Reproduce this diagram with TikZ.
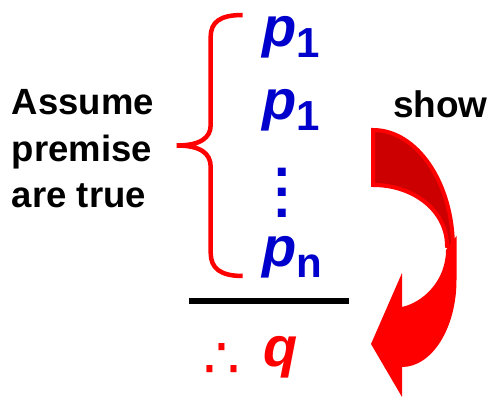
\documentclass[tikz,border=0pt]{standalone}
\usepackage{fontspec}
\setmainfont{Liberation Sans}
\newfontfamily\dejavu{DejaVu Sans}
\definecolor{pblue}{HTML}{0000CC}
\definecolor{pred}{HTML}{FF0000}
\definecolor{dred}{HTML}{CC0000}
\begin{document}
\begin{tikzpicture}[x=1pt,y=-1pt,
  lbl/.style={inner sep=0pt, outer sep=0pt, anchor=base west},
  lefttxt/.style={lbl, font=\fontsize{36.5}{44}\selectfont\bfseries},
  prem/.style={lbl, text=pblue, font=\fontsize{56}{56}\selectfont\bfseries},
  dotsty/.style={inner sep=0pt, outer sep=0pt, anchor=center, align=center, text=pblue, font=\fontsize{56}{20.5}\selectfont\bfseries},
  bracesty/.style={draw=pred, line width=4.5pt},
  ruleline/.style={draw=black, line width=5.5pt},
  arrowback/.style={fill=dred, draw=pred, line width=4pt, line join=miter},
  arrowfront/.style={fill=pred, draw=none}]
\useasboundingbox (0,0) rectangle (491,398);

% left text
\node[lefttxt] (a1) at (12,115) {Assume};
\node[lefttxt] (a2) at (12,162) {premise};
\node[lefttxt] (a3) at (12,208) {are true};

% show
\node[lbl, font=\fontsize{37}{37}\selectfont\bfseries] (show) at (393,118) {show};

% brace
\coordinate (btop) at (242.7,15);
\coordinate (btip) at (176.7,145.5);
\coordinate (bbot) at (242.7,276);
\draw[bracesty] (btop) .. controls (220,15) and (210.7,22) .. (210.7,37)
  -- (210.7,125) .. controls (210.7,138) and (200,145.5) .. (btip)
  .. controls (200,145.5) and (210.7,153) .. (210.7,167)
  -- (210.7,253) .. controls (210.7,268) and (220,276) .. (bbot);

% premises
\node[prem] (p1) at (262,47) {\itshape p\upshape\raisebox{-11pt}{\fontsize{42}{42}\selectfont 1}};
\node[prem] (p2) at (262,120) {\itshape p\upshape\raisebox{-11pt}{\fontsize{42}{42}\selectfont 1}};
\node[dotsty] (dots) at (282.5,192.5) {.\\.\\.};
\node[prem] (pn) at (262,267) {\itshape p\upshape\raisebox{-11pt}{\fontsize{42}{42}\selectfont n}};

% rule
\coordinate (rl) at (189,301);
\coordinate (rr) at (349,301);
\draw[ruleline] (rl) -- (rr);

% therefore q
\node[inner sep=0pt, outer sep=0pt, anchor=center, text=pred, font=\dejavu\fontsize{58}{58}\selectfont] (thf) at (222.2,360.5) {∴};
\node[lbl, text=pred, font=\fontsize{56}{56}\selectfont\bfseries\itshape] (q) at (263,366.7) {q};

% curved arrow: back (dark) part
\path[arrowback] (373,130) .. controls (417,130) and (453,183) .. (453,248)
  -- (447,246) .. controls (447,211) and (414,185) .. (373,185) -- cycle;
% front part with head
\path[arrowfront] (456.5,236) -- (456.5,280) .. controls (456.5,328) and (432,367) .. (402,367)
  -- (402,397) -- (371,344) -- (402,273) -- (402,307)
  .. controls (424,302) and (446,280) .. (446,250) -- cycle;
\end{tikzpicture}
\end{document}
